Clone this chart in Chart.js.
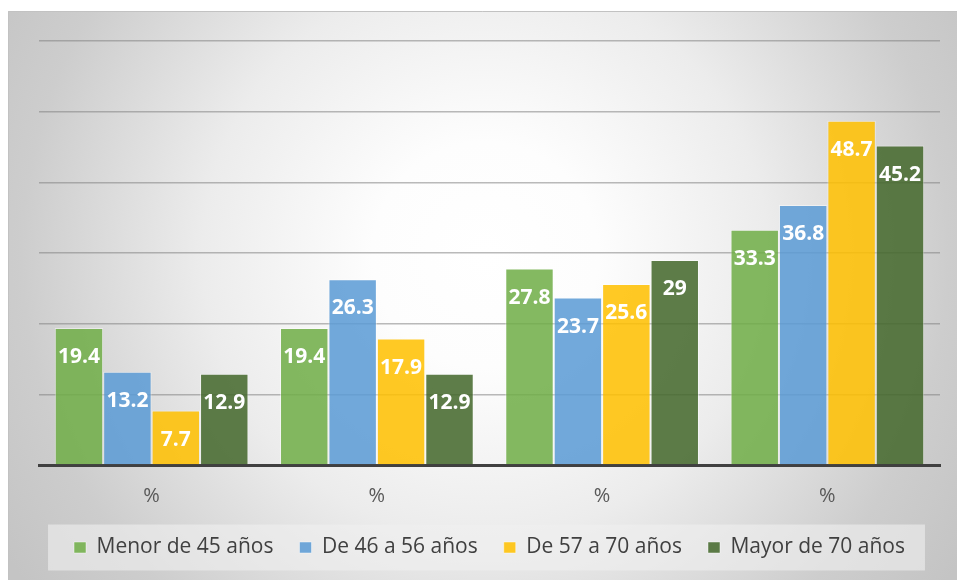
<!DOCTYPE html>
<html>
<head>
<meta charset="utf-8">
<script src="https://cdn.jsdelivr.net/npm/chart.js@4/dist/chart.umd.min.js"></script>
<style>
  html, body { margin: 0; padding: 0; background: #ffffff; }
  #wrap { position: relative; width: 957px; height: 580px; }
</style>
</head>
<body>
<div id="wrap"><canvas id="chart"></canvas></div>
<script>
// Categories and series (percentages by age group)
const categories = ['%', '%', '%', '%'];
const seriesNames = ['Menor de 45 años', 'De 46 a 56 años', 'De 57 a 70 años', 'Mayor de 70 años'];
const menor45 = [19.4, 19.4, 27.8, 33.3];
const de46a56 = [13.2, 26.3, 23.7, 36.8];
const de57a70 = [7.7, 17.9, 25.6, 48.7];
const mayor70 = [12.9, 12.9, 29, 45.2];
const yTicks = [0, 10, 20, 30, 40, 50, 60];

const seriesValues = [menor45, de46a56, de57a70, mayor70];
const seriesColors = [
  'rgba(112,173,71,0.86)',
  'rgba(91,155,213,0.86)',
  'rgba(255,192,0,0.86)',
  'rgba(67,104,43,0.86)'
];

const FONT = '"Open Sans", "DejaVu Sans", sans-serif';

// Soft radial backdrop, thin frame and the legend panel
const backdrop = {
  id: 'backdrop',
  beforeDraw(chart) {
    const { ctx, width, height } = chart;
    ctx.save();
    ctx.fillStyle = '#ffffff';
    ctx.fillRect(0, 0, width, height);
    const x0 = 8, y0 = 11;
    const g = ctx.createRadialGradient(485, 255, 0, 485, 255, 565);
    g.addColorStop(0, '#ffffff');
    g.addColorStop(0.2, '#fdfdfd');
    g.addColorStop(0.5, '#ececec');
    g.addColorStop(0.82, '#cdcdcd');
    g.addColorStop(1, '#c4c4c4');
    ctx.fillStyle = g;
    ctx.fillRect(x0, y0, width - x0, height - y0);
    ctx.strokeStyle = '#c2c2c2';
    ctx.lineWidth = 1;
    ctx.beginPath();
    ctx.moveTo(x0 + 0.5, height);
    ctx.lineTo(x0 + 0.5, y0 + 0.5);
    ctx.lineTo(width, y0 + 0.5);
    ctx.stroke();

    const boxes = chart.legend && chart.legend.legendHitBoxes;
    if (boxes && boxes.length) {
      let l = Infinity, r = -Infinity, t = Infinity, b = -Infinity;
      boxes.forEach(h => {
        l = Math.min(l, h.left); r = Math.max(r, h.left + h.width);
        t = Math.min(t, h.top); b = Math.max(b, h.top + h.height);
      });
      const cy = (t + b) / 2;
      ctx.fillStyle = 'rgba(240,240,240,0.6)';
      ctx.fillRect(l - 26, cy - 23, (r + 20) - (l - 26), 46);
    }
    ctx.restore();
  }
};

// White value labels just inside the top of each bar
const valueLabels = {
  id: 'valueLabels',
  afterDatasetsDraw(chart) {
    const { ctx } = chart;
    ctx.save();
    ctx.font = 'bold 21px ' + FONT;
    ctx.fillStyle = '#ffffff';
    ctx.textAlign = 'center';
    ctx.textBaseline = 'alphabetic';
    chart.data.datasets.forEach((ds, i) => {
      const meta = chart.getDatasetMeta(i);
      meta.data.forEach((bar, j) => {
        ctx.fillText(String(ds.data[j]), bar.x, bar.y + 35);
      });
    });
    ctx.restore();
  }
};

new Chart(document.getElementById('chart'), {
  type: 'bar',
  data: {
    labels: categories,
    datasets: seriesNames.map((name, i) => ({
      label: name,
      data: seriesValues[i],
      backgroundColor: seriesColors[i],
      borderColor: 'rgba(255,255,255,0.45)',
      borderWidth: 1,
      categoryPercentage: 0.86,
      barPercentage: 1.0
    }))
  },
  options: {
    responsive: true,
    maintainAspectRatio: false,
    animation: false,
    layout: { padding: { left: 39, right: 17, top: 41, bottom: 12 } },
    plugins: {
      tooltip: { enabled: false },
      legend: {
        position: 'bottom',
        labels: {
          color: '#404040',
          font: { family: FONT, size: 21 },
          boxWidth: 12,
          boxHeight: 11,
          padding: 26
        }
      }
    },
    scales: {
      x: {
        grid: { display: false, drawTicks: false },
        border: { display: true, color: '#404040', width: 3 },
        ticks: {
          color: '#595959',
          font: { family: FONT, size: 20 },
          padding: 19
        },
        afterFit(scale) { scale.height = 46; }
      },
      y: {
        min: yTicks[0],
        max: yTicks[yTicks.length - 1],
        afterBuildTicks(scale) { scale.ticks = yTicks.map(v => ({ value: v })); },
        grid: { color: 'rgba(130,130,130,0.55)', lineWidth: 1.5, drawTicks: false },
        border: { display: false },
        ticks: { display: false }
      }
    }
  },
  plugins: [backdrop, valueLabels]
});
</script>
</body>
</html>
